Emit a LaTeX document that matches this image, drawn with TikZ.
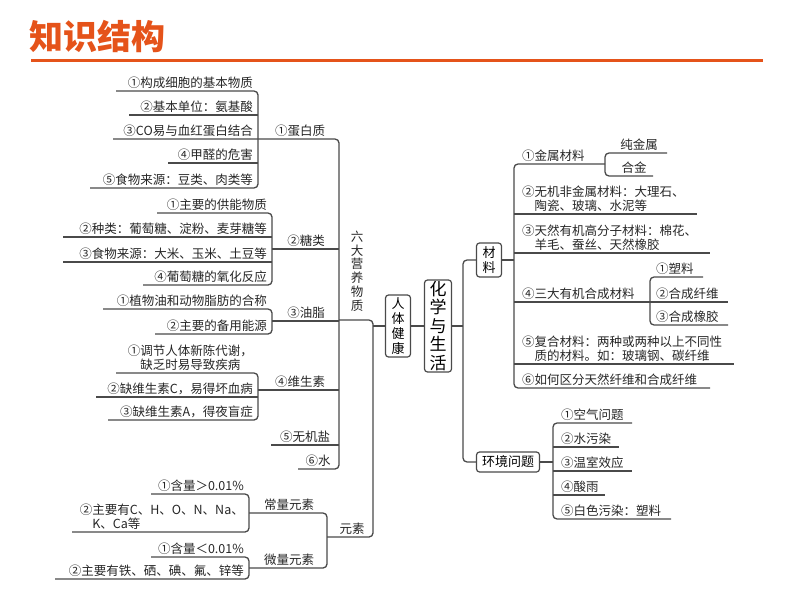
\documentclass[tikz,border=0pt]{standalone}
\usepackage{fontspec}
\setmainfont{Noto Sans CJK SC}
\definecolor{linec}{HTML}{4A4A4A}
\definecolor{titleor}{HTML}{E5531A}
\tikzset{
  br/.style={draw=linec, line width=1.3pt, rounded corners=4pt},
  txt/.style={font=\fontsize{12.5}{14.5}\selectfont, inner sep=1pt, text=black!85},
  lt/.style={txt, anchor=south east, align=left},
  rt/.style={txt, anchor=south west, align=left},
  lb/.style={txt, anchor=south},
  box/.style={draw=linec, line width=1.2pt, rounded corners=3pt, inner sep=0pt, align=center}
}
\begin{document}
\begin{tikzpicture}[x=1pt,y=-1pt]
  \useasboundingbox (0,0) rectangle (794,596);

  % Titel
  \node[anchor=west, inner sep=0pt, text=titleor, font=\fontsize{34}{34}\selectfont\bfseries] (title) at (29,37) {知识结构};
  \draw[titleor, line width=3pt] (31,61) -- (763,61);

  % Mittelknoten
  \node[box, minimum width=25pt, minimum height=62pt, font=\fontsize{13}{15}\selectfont] (health) at (398,326) {人\\体\\健\\康};
  \node[box, minimum width=27pt, minimum height=92pt, font=\fontsize{17}{18.5}\selectfont] (life) at (438,326) {化\\学\\与\\生\\活};
  \node[box, minimum width=25pt, minimum height=34pt, font=\fontsize{13}{15}\selectfont] (mat) at (489,260) {材\\料};
  \node[box, minimum width=63pt, minimum height=20pt, font=\fontsize{13}{15}\selectfont] (env) at (508,462) {环境问题};
  \node[txt, align=center, font=\fontsize{12.5}{13.8}\selectfont] (six) at (357,271) {六\\大\\营\\养\\物\\质};

  \coordinate (hj) at (373,326);
  \coordinate (rj) at (463,326);
  \draw[br] (life.west) -- (health.east);
  \draw[br] (health.west) -- (hj);
  \draw[br] (life.east) -- (rj);

  % Eiweiss
  \draw[br] (116,91) -- (258,91) -- (258,188) -- (90,188);
  \draw[br] (129,115) -- (258,115);
  \draw[br] (113,139) -- (339,139) -- (339,469) -- (298,469);
  \draw[br] (168,163) -- (258,163);
  \node[lt] (p1) at (254,90) {①构成细胞的基本物质};
  \node[lt] (p2) at (254,114) {②基本单位：氨基酸};
  \node[lt] (p3) at (254,138) {③CO易与血红蛋白结合};
  \node[lt] (p4) at (254,162) {④甲醛的危害};
  \node[lt] (p5) at (254,187) {⑤食物来源：豆类、肉类等};
  \node[lb] (pro) at (300,138) {①蛋白质};

  % Zucker
  \draw[br] (157,213) -- (272,213) -- (272,285) -- (143,285);
  \draw[br] (63,237) -- (272,237);
  \draw[br] (63,262) -- (272,262);
  \draw[br] (272,249) -- (339,249);
  \node[lt] (s1) at (268,212) {①主要的供能物质};
  \node[lt] (s2) at (268,236) {②种类：葡萄糖、淀粉、麦芽糖等};
  \node[lt] (s3) at (268,261) {③食物来源：大米、玉米、土豆等};
  \node[lt] (s4) at (268,284) {④葡萄糖的氧化反应};
  \node[lb] (sug) at (306,248) {②糖类};

  % Fett
  \draw[br] (103,309) -- (272,309) -- (272,334) -- (155,334);
  \draw[br] (272,321) -- (339,321);
  \draw[br] (339,320) -- (373,320) -- (373,537) -- (327,537);
  \node[lt] (f1) at (268,308) {①植物油和动物脂肪的合称};
  \node[lt] (f2) at (268,333) {②主要的备用能源};
  \node[lb] (fat) at (306,320) {③油脂};

  % Vitamine
  \draw[br] (116,373) -- (258,373) -- (258,420) -- (108,420);
  \draw[br] (96,397) -- (258,397);
  \draw[br] (258,390) -- (339,390);
  \node[lt] (v1) at (254,372) {①调节人体新陈代谢，\\\hspace{1em}缺乏时易导致疾病};
  \node[lt] (v2) at (254,396) {②缺维生素C，易得坏血病};
  \node[lt] (v3) at (254,419) {③缺维生素A，得夜盲症};
  \node[lb] (vit) at (300,389) {④维生素};

  % Salze, Wasser
  \draw[br] (271,445) -- (339,445);
  \node[lb] (salt) at (305,444) {⑤无机盐};
  \node[lb] (water) at (318,468) {⑥水};

  % Elemente
  \draw[br] (249,513) -- (327,513) -- (327,568) -- (249,568);
  \draw[br] (151,494) -- (249,494) -- (249,532) -- (72,532);
  \draw[br] (151,557) -- (249,557) -- (249,579) -- (55,579);
  \node[lt] (e1) at (245,493) {①含量＞0.01\%};
  \node[lt] (e2) at (245,531) {②主要有C、H、O、N、Na、\\\hspace{1em}K、Ca等};
  \node[lt] (e3) at (245,556) {①含量＜0.01\%};
  \node[lt] (e4) at (245,578) {②主要有铁、硒、碘、氟、锌等};
  \node[lb] (major) at (289,512) {常量元素};
  \node[lb] (minor) at (289,567) {微量元素};
  \node[lb] (elem) at (352,536) {元素};

  % rechte Seite
  \draw[br] (mat.west) -- (463,260) -- (463,462) -- (env.west);
  \draw[br] (mat.east) -- (514,260);
  \draw[br] (605,164) -- (514,164) -- (514,388) -- (710,388);
  \draw[br] (514,214) -- (697,214);
  \draw[br] (514,253) -- (710,253);
  \draw[br] (514,302) -- (650,302);
  \draw[br] (514,364) -- (734,364);
  \draw[br] (667,153) -- (605,153) -- (605,176) -- (653,176);
  \draw[br] (703,277) -- (650,277) -- (650,325) -- (728,325);
  \draw[br] (650,302) -- (728,302);
  \node[rt] (m1) at (521,163) {①金属材料};
  \node[lb] (m1a) at (639,152) {纯金属};
  \node[lb] (m1b) at (634,175) {合金};
  \node[rt] (m2) at (521,213) {②无机非金属材料：大理石、\\\hspace{1em}陶瓷、玻璃、水泥等};
  \node[rt] (m3) at (521,252) {③天然有机高分子材料：棉花、\\\hspace{1em}羊毛、蚕丝、天然橡胶};
  \node[rt] (m4) at (521,301) {④三大有机合成材料};
  \node[rt] (m4a) at (655,276) {①塑料};
  \node[rt] (m4b) at (655,301) {②合成纤维};
  \node[rt] (m4c) at (655,324) {③合成橡胶};
  \node[rt] (m5) at (521,363) {⑤复合材料：两种或两种以上不同性\\\hspace{1em}质的材料。如：玻璃钢、碳纤维};
  \node[rt] (m6) at (521,387) {⑥如何区分天然纤维和合成纤维};

  \draw[br] (env.east) -- (553,462);
  \draw[br] (632,423) -- (553,423) -- (553,519) -- (671,519);
  \draw[br] (553,447) -- (619,447);
  \draw[br] (553,471) -- (632,471);
  \draw[br] (553,495) -- (605,495);
  \node[rt] (n1) at (560,422) {①空气问题};
  \node[rt] (n2) at (560,446) {②水污染};
  \node[rt] (n3) at (560,470) {③温室效应};
  \node[rt] (n4) at (560,494) {④酸雨};
  \node[rt] (n5) at (560,518) {⑤白色污染：塑料};
\end{tikzpicture}
\end{document}
